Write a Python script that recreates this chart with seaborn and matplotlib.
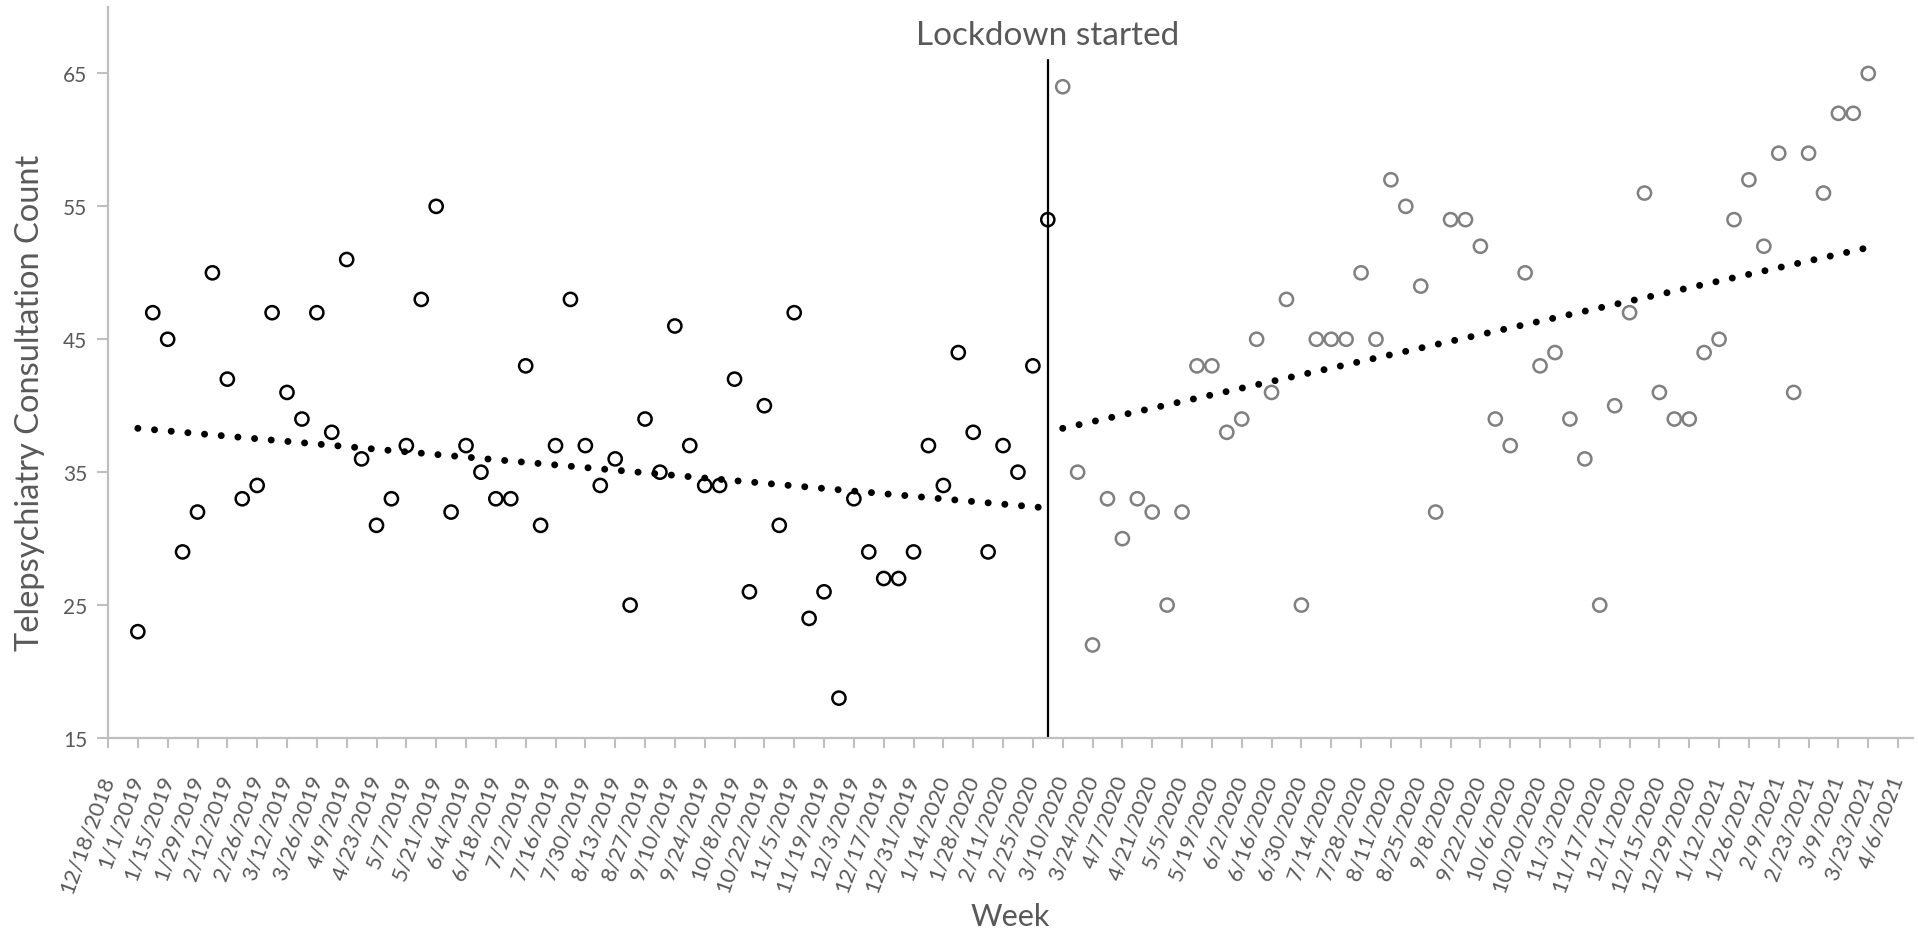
import pandas as pd
import seaborn as sns
import matplotlib.pyplot as plt

# weekly telepsychiatry consultation counts
pre_start = "2019-01-01"
pre_counts = [23, 47, 45, 29, 32, 50, 42, 33, 34, 47, 41, 39, 47, 38, 51, 36,
              31, 33, 37, 48, 55, 32, 37, 35, 33, 33, 43, 31, 37, 48, 37, 34,
              36, 25, 39, 35, 46, 37, 34, 34, 42, 26, 40, 31, 47, 24, 26, 18,
              33, 29, 27, 27, 29, 37, 34, 44, 38, 29, 37, 35, 43, 54]
post_start = "2020-03-10"
post_counts = [64, 35, 22, 33, 30, 33, 32, 25, 32, 43, 43, 38, 39, 45, 41, 48,
               25, 45, 45, 45, 50, 45, 57, 55, 49, 32, 54, 54, 52, 39, 37, 50,
               43, 44, 39, 36, 25, 40, 47, 56, 41, 39, 39, 44, 45, 54, 57, 52,
               59, 41, 59, 56, 62, 62, 65]
# linear trend values at first and last week of each period
pre_trend = [38.3, 32.3]
post_trend = [38.3, 51.9]
lockdown_date = "2020-03-03"
lockdown_label = "Lockdown started"
tick_start = "2018-12-18"
tick_end = "2021-04-06"
y_ticks = [15, 25, 35, 45, 55, 65]

pre = pd.DataFrame({"week": pd.date_range(pre_start, periods=len(pre_counts), freq="7D"),
                    "count": pre_counts})
post = pd.DataFrame({"week": pd.date_range(post_start, periods=len(post_counts), freq="7D"),
                     "count": post_counts})

sns.set_style("white")
plt.rcParams['font.family'] = ['Lato', 'DejaVu Sans']

W, H = 1918, 937
fig = plt.figure(figsize=(W / 100, H / 100), dpi=100)
ax = fig.add_axes([108 / W, 1 - 739 / H, 1805 / W, 731 / H])

grey_txt = '#595959'
axis_col = '#bfbfbf'

sns.scatterplot(data=pre, x="week", y="count", ax=ax, s=90, marker='o',
                facecolor='none', edgecolor='black', linewidth=1.8, zorder=3)
sns.scatterplot(data=post, x="week", y="count", ax=ax, s=90, marker='o',
                facecolor='none', edgecolor='#808080', linewidth=1.8, zorder=3)

# dotted trend lines
for df, tr in ((pre, pre_trend), (post, post_trend)):
    ends = df["week"].iloc[[0, -1]]
    ax.plot(ends, tr, color='black', lw=5, linestyle=(0, (0.01, 2.4)),
            dash_capstyle='round', zorder=2)

ld = pd.Timestamp(lockdown_date)
ax.axvline(ld, ymin=0, ymax=(66 - 15) / (70 - 15), color='black', lw=1.6, zorder=2)
ax.text(ld, 67.9, lockdown_label, ha='center', va='center', fontsize=24,
        color=grey_txt)

ticks = pd.date_range(tick_start, tick_end, freq="14D")
ax.set_xticks(ticks)
ax.set_xticklabels([f"{d.month}/{d.day}/{d.year}" for d in ticks], rotation=70,
                   ha='right', va='center', rotation_mode='anchor')
ax.set_xlim(ticks[0], ticks[-1] + pd.Timedelta(days=7))
ax.set_ylim(15, 70)
ax.set_yticks(y_ticks)

ax.tick_params(axis='x', bottom=True, length=7, width=1.5, color=axis_col,
               pad=20, labelsize=16, labelcolor=grey_txt)
ax.tick_params(axis='y', left=True, length=8, width=1.5, color=axis_col,
               pad=7, labelsize=15, labelcolor=grey_txt)

for side in ['top', 'right']:
    ax.spines[side].set_visible(False)
for side in ['left', 'bottom']:
    ax.spines[side].set_color(axis_col)
    ax.spines[side].set_linewidth(1.6)

ax.set_xlabel("Week", fontsize=22, color=grey_txt)
ax.set_ylabel("Telepsychiatry Consultation Count", fontsize=23.5, color=grey_txt)
ax.xaxis.set_label_coords(0.5, -0.225)
ax.yaxis.set_label_coords(-0.035, 0.46)

fig.savefig("out.png", dpi=100)
